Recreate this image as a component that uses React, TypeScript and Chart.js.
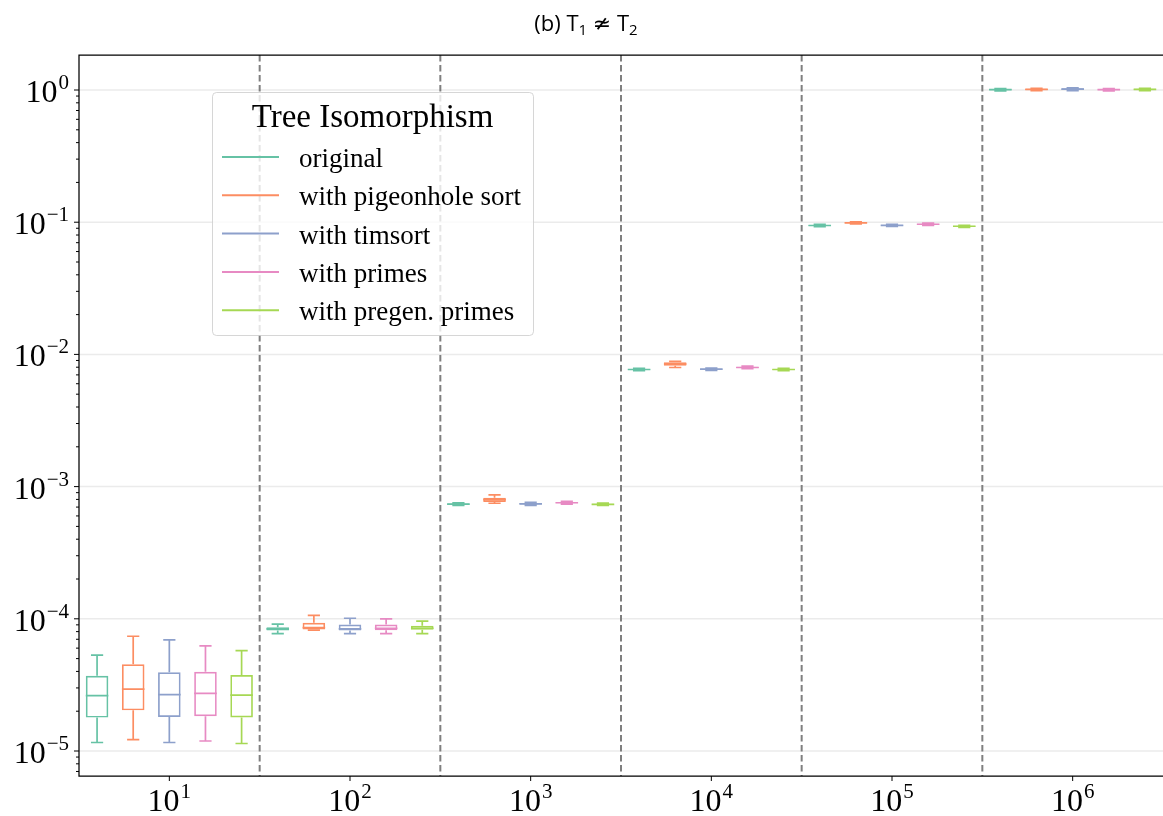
import React, { useEffect, useRef } from 'react';
import { Chart, registerables } from 'chart.js';

Chart.register(...registerables);

// x categories: problem sizes 10^n
const categoryExponents = ['1', '2', '3', '4', '5', '6'];
// y major tick exponents (10^e)
const yMajorExponents = [0, -1, -2, -3, -4, -5];
const yMin = 6.47e-6;
const yMax = 1.84;

const seriesLabels = ['original', 'with pigeonhole sort', 'with timsort', 'with primes', 'with pregen. primes'];
const seriesColors = ['#66c2a5', '#fc8d62', '#8da0cb', '#e78ac3', '#a6d854'];

// per category: [low whisker, q1, median, q3, high whisker]
const originalStats = [
  [1.16e-5, 1.79e-5, 2.62e-5, 3.71e-5, 5.32e-5],
  [7.73e-5, 8.15e-5, 8.4e-5, 8.63e-5, 9.13e-5],
  [7.2e-4, 7.3e-4, 7.37e-4, 7.44e-4, 7.52e-4],
  [7.55e-3, 7.62e-3, 7.69e-3, 7.76e-3, 7.85e-3],
  [9.25e-2, 9.36e-2, 9.44e-2, 9.52e-2, 9.62e-2],
  [0.985, 0.995, 1.005, 1.015, 1.025],
];
const pigeonholeStats = [
  [1.22e-5, 2.03e-5, 2.94e-5, 4.53e-5, 7.38e-5],
  [8.22e-5, 8.29e-5, 8.59e-5, 9.32e-5, 1.06e-4],
  [7.48e-4, 7.65e-4, 7.97e-4, 8.25e-4, 8.65e-4],
  [7.96e-3, 8.22e-3, 8.46e-3, 8.72e-3, 8.85e-3],
  [9.7e-2, 9.8e-2, 9.88e-2, 9.96e-2, 1.005e-1],
  [0.99, 1.0, 1.01, 1.02, 1.03],
];
const timsortStats = [
  [1.16e-5, 1.81e-5, 2.67e-5, 3.94e-5, 6.92e-5],
  [7.73e-5, 8.15e-5, 8.4e-5, 9.05e-5, 1.01e-4],
  [7.22e-4, 7.32e-4, 7.4e-4, 7.5e-4, 7.6e-4],
  [7.58e-3, 7.66e-3, 7.73e-3, 7.8e-3, 7.88e-3],
  [9.28e-2, 9.38e-2, 9.45e-2, 9.53e-2, 9.62e-2],
  [0.99, 1.0, 1.015, 1.03, 1.04],
];
const primesStats = [
  [1.19e-5, 1.83e-5, 2.73e-5, 3.98e-5, 6.23e-5],
  [7.73e-5, 8.19e-5, 8.48e-5, 9.05e-5, 1.0e-4],
  [7.38e-4, 7.47e-4, 7.55e-4, 7.63e-4, 7.72e-4],
  [7.8e-3, 7.88e-3, 7.96e-3, 8.05e-3, 8.14e-3],
  [9.45e-2, 9.55e-2, 9.65e-2, 9.75e-2, 9.85e-2],
  [0.985, 0.995, 1.005, 1.015, 1.025],
];
const pregenStats = [
  [1.14e-5, 1.79e-5, 2.65e-5, 3.76e-5, 5.74e-5],
  [7.73e-5, 8.25e-5, 8.48e-5, 8.85e-5, 9.59e-5],
  [7.2e-4, 7.28e-4, 7.35e-4, 7.42e-4, 7.5e-4],
  [7.55e-3, 7.62e-3, 7.69e-3, 7.76e-3, 7.84e-3],
  [9.15e-2, 9.25e-2, 9.32e-2, 9.4e-2, 9.48e-2],
  [0.99, 1.0, 1.01, 1.02, 1.03],
];

const allStats = [originalStats, pigeonholeStats, timsortStats, primesStats, pregenStats];

const chartTitle = ['(b) T', '1', ' \u2244 T', '2'];
const legendTitle = 'Tree Isomorphism';

const SERIF = "'Liberation Serif', 'DejaVu Serif', serif";
const SANS = "'Open Sans', 'DejaVu Sans', sans-serif";

function drawPower(ctx: CanvasRenderingContext2D, exp: string, x: number, baseline: number, align: 'right' | 'center') {
  ctx.font = `32px ${SERIF}`;
  const w1 = ctx.measureText('10').width;
  ctx.font = `21px ${SERIF}`;
  const w2 = ctx.measureText(exp).width;
  const total = w1 + 1 + w2;
  const start = align === 'right' ? x - total : x - total / 2;
  ctx.textAlign = 'left';
  ctx.textBaseline = 'alphabetic';
  ctx.fillStyle = '#000';
  ctx.font = `32px ${SERIF}`;
  ctx.fillText('10', start, baseline);
  ctx.font = `21px ${SERIF}`;
  ctx.fillText(exp, start + w1 + 1, baseline - 13);
}

const decorPlugin = {
  id: 'decor',
  beforeDatasetsDraw(chart: any) {
    const { ctx, chartArea } = chart;
    const y = chart.scales.y;
    ctx.save();
    ctx.strokeStyle = '#ebebeb';
    ctx.lineWidth = 1.5;
    yMajorExponents.forEach((e) => {
      const py = y.getPixelForValue(Math.pow(10, e));
      ctx.beginPath();
      ctx.moveTo(chartArea.left, py);
      ctx.lineTo(chartArea.right, py);
      ctx.stroke();
    });
    // category separators
    const x = chart.scales.x;
    ctx.strokeStyle = '#7f7f7f';
    ctx.lineWidth = 2;
    ctx.setLineDash([6.5, 3.5]);
    for (let i = 1; i < categoryExponents.length; i++) {
      const px = (x.getPixelForTick(i - 1) + x.getPixelForTick(i)) / 2;
      ctx.beginPath();
      ctx.moveTo(px, chartArea.top);
      ctx.lineTo(px, chartArea.bottom);
      ctx.stroke();
    }
    ctx.restore();
  },
  afterDatasetsDraw(chart: any) {
    const { ctx } = chart;
    const y = chart.scales.y;
    ctx.save();
    ctx.lineWidth = 1.7;
    chart.data.datasets.forEach((ds: any, di: number) => {
      const meta = chart.getDatasetMeta(di);
      const stats = allStats[di];
      meta.data.forEach((bar: any, i: number) => {
        const { x, width } = bar.getProps(['x', 'width'], true);
        const s = stats[i];
        const pLow = y.getPixelForValue(s[0]);
        const pQ1 = y.getPixelForValue(s[1]);
        const pMed = y.getPixelForValue(s[2]);
        const pQ3 = y.getPixelForValue(s[3]);
        const pHigh = y.getPixelForValue(s[4]);
        const cap = width * 0.27;
        ctx.strokeStyle = ds.borderColor;
        ctx.beginPath();
        ctx.moveTo(x, pQ3);
        ctx.lineTo(x, pHigh);
        ctx.moveTo(x - cap, pHigh);
        ctx.lineTo(x + cap, pHigh);
        ctx.moveTo(x, pQ1);
        ctx.lineTo(x, pLow);
        ctx.moveTo(x - cap, pLow);
        ctx.lineTo(x + cap, pLow);
        ctx.moveTo(x - width / 2, pMed);
        ctx.lineTo(x + width / 2, pMed);
        ctx.stroke();
      });
    });
    ctx.restore();
  },
  afterDraw(chart: any) {
    const { ctx, chartArea } = chart;
    const x = chart.scales.x;
    const y = chart.scales.y;
    ctx.save();
    // spines
    ctx.strokeStyle = '#000';
    ctx.lineWidth = 1.25;
    ctx.setLineDash([]);
    ctx.beginPath();
    ctx.moveTo(chartArea.right + 2, chartArea.top);
    ctx.lineTo(chartArea.left, chartArea.top);
    ctx.lineTo(chartArea.left, chartArea.bottom);
    ctx.lineTo(chartArea.right + 2, chartArea.bottom);
    ctx.stroke();

    // y ticks
    ctx.lineWidth = 1;
    for (let e = -6; e <= 0; e++) {
      for (let m = 1; m <= 9; m++) {
        const v = m * Math.pow(10, e);
        if (v < yMin || v > yMax) continue;
        const py = y.getPixelForValue(v);
        const len = m === 1 ? 5 : 3;
        ctx.beginPath();
        ctx.moveTo(chartArea.left - len, py);
        ctx.lineTo(chartArea.left, py);
        ctx.stroke();
      }
    }
    yMajorExponents.forEach((e) => {
      const py = y.getPixelForValue(Math.pow(10, e));
      drawPower(ctx, e < 0 ? '\u2212' + Math.abs(e) : String(e), 69, py + 12, 'right');
    });

    // x ticks
    categoryExponents.forEach((ex, i) => {
      const px = x.getPixelForTick(i);
      ctx.beginPath();
      ctx.moveTo(px, chartArea.bottom);
      ctx.lineTo(px, chartArea.bottom + 5);
      ctx.stroke();
      drawPower(ctx, ex, px, 811, 'center');
    });

    // title
    ctx.fillStyle = '#000';
    ctx.textBaseline = 'alphabetic';
    ctx.textAlign = 'left';
    const big = `22px ${SANS}`;
    const small = `15px ${SANS}`;
    const parts = chartTitle.map((t, i) => ({ t, f: i % 2 === 0 ? big : small, dy: i % 2 === 0 ? 0 : 4 }));
    let total = 0;
    parts.forEach((p) => { ctx.font = p.f; total += ctx.measureText(p.t).width; });
    let cx = 586 - total / 2;
    parts.forEach((p) => {
      ctx.font = p.f;
      ctx.fillText(p.t, cx, 31 + p.dy);
      cx += ctx.measureText(p.t).width;
    });

    // legend
    const lx = 212, ly = 92, lw = 321, lh = 243;
    ctx.beginPath();
    ctx.roundRect(lx + 0.5, ly + 0.5, lw, lh, 4);
    ctx.fillStyle = 'rgba(255,255,255,0.8)';
    ctx.fill();
    ctx.strokeStyle = 'rgba(204,204,204,0.8)';
    ctx.lineWidth = 1;
    ctx.stroke();
    ctx.fillStyle = '#000';
    ctx.font = `33px ${SERIF}`;
    ctx.textAlign = 'center';
    ctx.fillText(legendTitle, 372.5, 127);
    ctx.textAlign = 'left';
    ctx.font = `27px ${SERIF}`;
    chart.data.datasets.forEach((ds: any, i: number) => {
      const yy = 157 + 38.3 * i;
      ctx.strokeStyle = ds.borderColor;
      ctx.lineWidth = 2;
      ctx.beginPath();
      ctx.moveTo(222, yy);
      ctx.lineTo(279, yy);
      ctx.stroke();
      ctx.fillStyle = '#000';
      ctx.fillText(ds.label, 299, yy + 10);
    });
    ctx.restore();
  },
};

export default function App() {
  const canvasRef = useRef<HTMLCanvasElement | null>(null);

  useEffect(() => {
    const canvas = canvasRef.current;
    if (!canvas) return;
    const chart = new Chart(canvas, {
      type: 'bar',
      data: {
        labels: categoryExponents.map((e) => '10^' + e),
        datasets: allStats.map((stats, i) => ({
          label: seriesLabels[i],
          data: stats.map((s) => [s[1], s[3]]),
          backgroundColor: 'rgba(255,255,255,0)',
          borderColor: seriesColors[i],
          borderWidth: 1.7,
          borderSkipped: false,
          categoryPercentage: 1.0,
          barPercentage: 0.625,
        })),
      } as any,
      options: {
        animation: false,
        responsive: false,
        devicePixelRatio: 1,
        layout: { padding: { left: 79, right: 0, top: 55, bottom: 40 } },
        plugins: {
          legend: { display: false },
          title: { display: false },
          tooltip: { enabled: false },
        },
        scales: {
          x: { type: 'category', display: false, offset: true },
          y: { type: 'logarithmic', display: false, min: yMin, max: yMax },
        },
      } as any,
      plugins: [decorPlugin],
    });
    return () => chart.destroy();
  }, []);

  return (
    <div style={{ position: 'absolute', left: 0, top: 0, width: 1163, height: 816, background: '#fff' }}>
      <canvas ref={canvasRef} width={1163} height={816} style={{ width: 1163, height: 816, display: 'block' }} />
    </div>
  );
}
